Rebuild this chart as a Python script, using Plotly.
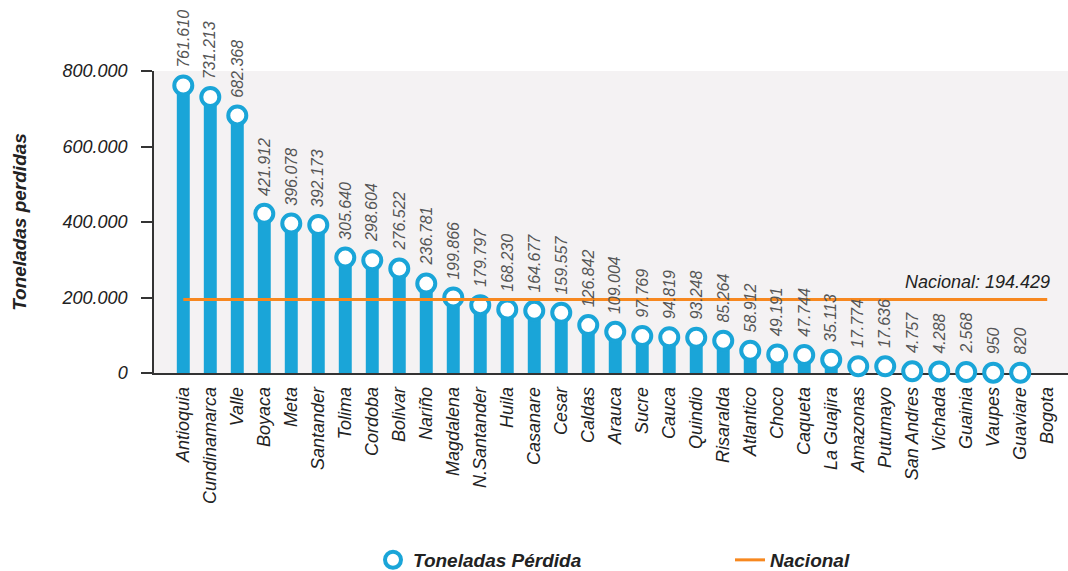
import plotly.graph_objects as go

categories = ["Antioquia", "Cundinamarca", "Valle", "Boyaca", "Meta", "Santander",
              "Tolima", "Cordoba", "Bolivar", "Nariño", "Magdalena", "N.Santander",
              "Huila", "Casanare", "Cesar", "Caldas", "Arauca", "Sucre", "Cauca",
              "Quindio", "Risaralda", "Atlantico", "Choco", "Caqueta", "La Guajira",
              "Amazonas", "Putumayo", "San Andres", "Vichada", "Guainia", "Vaupes",
              "Guaviare", "Bogota"]
toneladas = [761610, 731213, 682368, 421912, 396078, 392173, 305640, 298604, 276522,
             236781, 199866, 179797, 168230, 164677, 159557, 126842, 109004, 97769,
             94819, 93248, 85264, 58912, 49191, 47744, 35113, 17774, 17636, 4757,
             4288, 2568, 950, 820, None]
nacional = 194429
y_ticks = [0, 200000, 400000, 600000, 800000]
y_ticktext = ["0", "200.000", "400.000", "600.000", "800.000"]

BLUE = "#1AA5D8"
ORANGE = "#F7881F"
FONT = "Liberation Sans, Arial, sans-serif"


def fmt(v):
    return f"{v:,}".replace(",", ".")


fig = go.Figure()

fig.add_trace(go.Bar(
    x=categories, y=toneladas, width=0.48,
    marker=dict(color=BLUE, line=dict(width=0)),
    showlegend=False, hoverinfo="skip",
))

fig.add_trace(go.Scatter(
    x=categories, y=toneladas, mode="markers", name="Toneladas Pérdida",
    marker=dict(symbol="circle", size=18, color="white",
                line=dict(color=BLUE, width=4)),
    cliponaxis=False,
))

fig.add_trace(go.Scatter(
    x=[categories[0], categories[-1]], y=[nacional, nacional], mode="lines",
    name="Nacional", line=dict(color=ORANGE, width=3),
))

annotations = []
for c, v in zip(categories, toneladas):
    if v is None:
        continue
    annotations.append(dict(
        x=c, y=v, xref="x", yref="y", text=fmt(v), showarrow=False,
        textangle=-90, xanchor="center", yanchor="bottom", yshift=16,
        font=dict(family=FONT, size=16, color="#555555", style="italic"),
    ))

annotations.append(dict(
    x=categories[-1], y=nacional, xref="x", yref="y",
    text="Nacional: " + fmt(nacional), showarrow=False,
    xanchor="right", yanchor="bottom", xshift=5, yshift=6,
    font=dict(family=FONT, size=18, color="#222222", style="italic"),
))

fig.update_layout(
    width=1068, height=571,
    margin=dict(l=154, r=0, t=71, b=198, autoexpand=False),
    paper_bgcolor="white", plot_bgcolor="#F4F2F3",
    font=dict(family=FONT, color="#222222", style="italic"),
    bargap=0.5,
    annotations=annotations,
    legend=dict(
        orientation="h", x=373 / 1068, xanchor="left", y=11 / 571, yanchor="middle",
        xref="container", yref="container",
        font=dict(family=FONT, size=19, color="#222222", weight="bold", style="italic"),
        entrywidth=312, entrywidthmode="pixels",
        bgcolor="rgba(0,0,0,0)",
    ),
    showlegend=True,
)

fig.update_xaxes(
    type="category", range=[-1.085, 32.77],
    tickangle=-90, ticks="", showgrid=False,
    showline=True, linecolor="#333333", linewidth=1.5,
    tickfont=dict(family=FONT, size=18, color="#222222", style="italic"),
    ticklabelstandoff=5,
    layer="below traces", zeroline=False,
)

fig.update_yaxes(
    range=[0, 800000], tickvals=y_ticks, ticktext=y_ticktext,
    ticks="outside", ticklen=11, tickcolor="#333333", tickwidth=1.5,
    showline=True, linecolor="#333333", linewidth=1.5,
    showgrid=False, zeroline=False,
    tickfont=dict(family=FONT, size=18, color="#222222", style="italic"),
    ticklabelstandoff=10,
    title=dict(text="Toneladas perdidas", standoff=30,
               font=dict(family=FONT, size=19, color="#222222", weight="bold", style="italic")),
    automargin=False,
)

fig.write_html("out.html", config={"displayModeBar": False},
               post_script="document.body.style.margin='0';")
